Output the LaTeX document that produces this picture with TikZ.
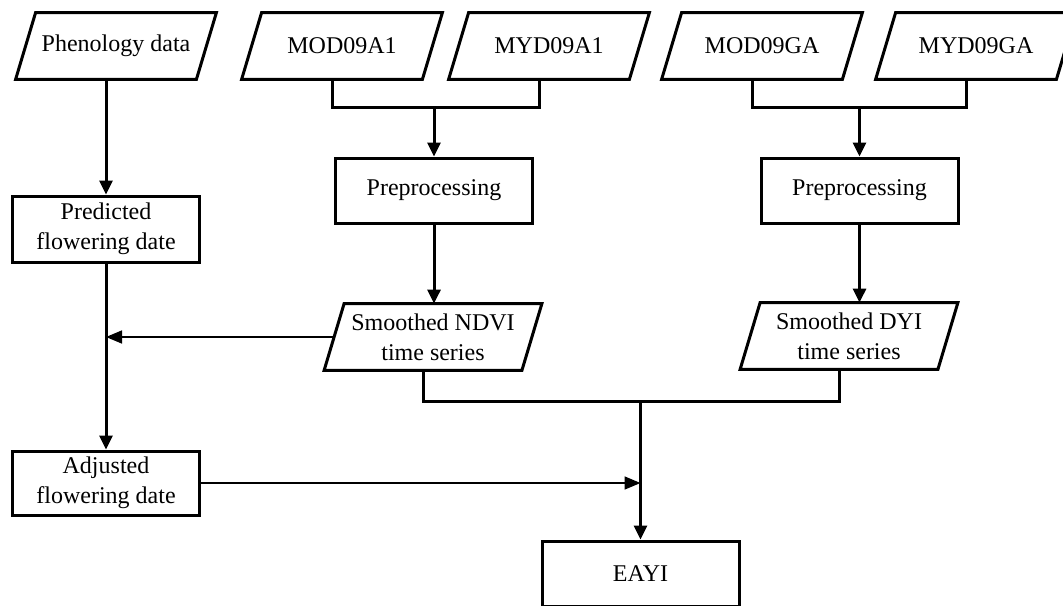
\documentclass[tikz,border=0pt]{standalone}
\usepackage{fontspec}
\setmainfont{Liberation Serif}
\usetikzlibrary{arrows.meta,calc}
\begin{document}
\begin{tikzpicture}[x=0.5pt,y=-0.5pt,
  base/.style={font=\fontsize{12}{15}\selectfont, align=center, inner sep=0pt},
  procbox/.style={base, draw, line width=1.5pt, minimum width=98.5pt, minimum height=32.5pt},
  iobox/.style={base, minimum height=33pt},
  thk/.style={line width=1.5pt},
  arr/.style={thk, -{Triangle[length=7pt,width=6.5pt]}},
  tarr/.style={line width=0.8pt, -{Triangle[length=8pt,width=6.5pt]}}
]
\useasboundingbox (0,0) rectangle (1063,605);
\clip (0,0) rectangle (1063,605);

% input / output nodes (parallelograms drawn below)
\node[iobox, minimum width=90pt] (phen) at (116,46) {Phenology data};
\node[iobox, minimum width=90pt] (mod1) at (342,46) {MOD09A1};
\node[iobox, minimum width=90pt] (myd1) at (549,46) {MYD09A1};
\node[iobox, minimum width=90pt] (modga) at (762,46) {MOD09GA};
\node[iobox, minimum width=90pt] (mydga) at (976,46) {MYD09GA};
\node[iobox, minimum width=98.5pt] (ndvi) at (433,337) {Smoothed NDVI\\time series};
\node[iobox, minimum width=98.5pt] (dyi) at (849,336) {Smoothed DYI\\time series};

% process nodes
\node[procbox] (prep1) at (434,190.5) {Preprocessing};
\node[procbox] (prep2) at (859.5,190.5) {Preprocessing};
\node[procbox, minimum width=93.5pt, minimum height=33pt] (pred) at (106,229) {Predicted\\flowering date};
\node[procbox, minimum width=93.5pt, minimum height=32pt] (adj) at (106,483) {Adjusted\\flowering date};
\node[procbox] (eayi) at (640.5,573.5) {EAYI};

\foreach \n in {phen,mod1,myd1,modga,mydga,ndvi,dyi}
  \draw[thk] ([xshift=5pt]\n.north west) -- ([xshift=5pt]\n.north east)
     -- ([xshift=-5pt]\n.south east) -- ([xshift=-5pt]\n.south west) -- cycle;

% connectors
\draw[arr] ([xshift=-5pt]phen.south) -- (pred.north);
\draw[arr] (pred.south) -- (adj.north);

\coordinate (j1) at (434,107);
\draw[thk] ([xshift=-5pt]mod1.south) |- (j1) -| ([xshift=-5pt]myd1.south);
\draw[arr] (j1) -- (prep1.north);

\coordinate (j2) at (859.5,107);
\draw[thk] ([xshift=-5pt]modga.south) |- (j2) -| ([xshift=-5pt]mydga.south);
\draw[arr] (j2) -- (prep2.north);

\draw[arr] (prep1.south) -- (prep1.south |- ndvi.north);
\draw[arr] (prep2.south) -- (prep2.south |- dyi.north);

\coordinate (j3) at (640.5,401);
\draw[thk] ([xshift=-5pt]ndvi.south) |- (j3) -| ([xshift=-5pt]dyi.south);
\draw[arr] (j3) -- (eayi.north);

\draw[tarr] (ndvi.west) -- (ndvi.west -| pred.south);
\draw[tarr] (adj.east) -- (adj.east -| eayi.north);
\end{tikzpicture}
\end{document}
